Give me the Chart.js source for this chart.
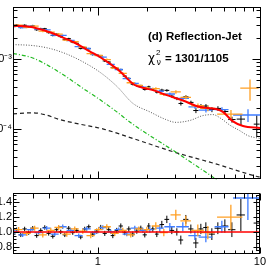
<!DOCTYPE html>
<html><head><meta charset="utf-8">
<script src="https://cdn.jsdelivr.net/npm/chart.js@4.4.1/dist/chart.umd.min.js"></script>
<style>
html,body{margin:0;padding:0;background:#fff;overflow:hidden;width:267px;height:267px}
canvas{position:absolute;left:0}
#top{top:0}
#bot{top:186px}
</style></head><body>
<canvas id="top" width="267" height="187"></canvas>
<canvas id="bot" width="267" height="81"></canvas>
<script>
// ---------------- data ----------------
const blackE = [0.302,0.316,0.335,0.354,0.375,0.397,0.420,0.445,0.471,0.498,0.528,0.558,0.591,0.626,0.662,0.701,0.742,0.785,0.831,0.880,0.931,0.986,1.043,1.105,1.169,1.238,1.310,1.387,1.468,1.554,1.644,1.741,1.843,1.950,2.064,2.185,2.313,2.484,2.667,2.862,3.074,3.253,3.493,3.751,4.027,4.324,4.642,5.055,5.505,6.081,6.718,7.634,9.55];
const blackFlux = [2.883e-3,3.042e-3,2.808e-3,3.023e-3,2.860e-3,2.978e-3,2.603e-3,2.701e-3,2.696e-3,2.371e-3,2.164e-3,2.256e-3,2.078e-3,1.886e-3,1.945e-3,1.728e-3,1.667e-3,1.411e-3,1.455e-3,1.398e-3,1.155e-3,1.136e-3,1.103e-3,9.35e-4,9.01e-4,7.54e-4,7.33e-4,7.01e-4,5.67e-4,5.26e-4,4.34e-4,4.16e-4,4.13e-4,3.66e-4,3.99e-4,3.72e-4,3.35e-4,3.58e-4,3.55e-4,2.93e-4,2.71e-4,2.31e-4,2.87e-4,2.39e-4,1.83e-4,2.12e-4,2.12e-4,1.89e-4,1.96e-4,1.77e-4,1.36e-4,1.38e-4,1.17e-4];
const blackRatio = [0.97,1.03,0.96,1.04,0.99,1.05,0.95,1.02,1.06,0.98,0.94,1.03,1.00,0.96,1.05,0.99,1.02,0.93,1.04,1.07,0.97,1.01,1.06,0.98,1.03,0.95,1.02,1.08,0.99,1.04,0.97,1.01,1.05,0.96,1.08,1.04,0.97,1.10,1.17,1.02,1.00,0.89,1.17,1.04,0.85,1.04,1.06,0.97,1.05,1.08,1.03,1.23,1.12];
const blackRatioErr = [0.03,0.03,0.03,0.03,0.03,0.03,0.03,0.03,0.03,0.03,0.03,0.03,0.03,0.03,0.03,0.03,0.03,0.03,0.03,0.03,0.035,0.035,0.035,0.035,0.035,0.035,0.035,0.035,0.035,0.035,0.035,0.035,0.035,0.035,0.04,0.04,0.04,0.05,0.05,0.05,0.05,0.06,0.06,0.06,0.07,0.07,0.07,0.08,0.08,0.09,0.10,0.22,0.38];
const blackHalfW = [0.009,0.009,0.010,0.011,0.011,0.012,0.013,0.013,0.014,0.015,0.016,0.017,0.018,0.019,0.020,0.021,0.022,0.024,0.025,0.026,0.028,0.030,0.031,0.033,0.035,0.037,0.039,0.042,0.044,0.047,0.049,0.052,0.055,0.058,0.05,0.06,0.06,0.08,0.09,0.10,0.11,0.11,0.13,0.14,0.15,0.16,0.17,0.22,0.25,0.30,0.35,0.45,0.40];

const blueE = [0.307,0.344,0.386,0.432,0.484,0.543,0.608,0.681,0.763,0.855,0.958,1.074,1.203,1.348,1.510,1.692,1.896,2.094,2.413,2.783,3.347,3.971,4.642,5.826,8.434];
const blueFlux = [2.992e-3,2.799e-3,2.942e-3,2.671e-3,2.604e-3,2.178e-3,2.161e-3,1.831e-3,1.496e-3,1.406e-3,1.149e-3,1.057e-3,8.35e-4,7.05e-4,5.22e-4,4.47e-4,3.95e-4,3.77e-4,3.45e-4,3.15e-4,2.72e-4,2.07e-4,1.86e-4,1.89e-4,1.58e-4];
const blueRatio = [1.01,0.96,1.03,0.99,1.05,0.97,1.07,1.02,0.95,1.04,0.99,1.06,1.00,1.03,0.97,1.05,1.02,1.03,1.05,1.07,1.07,0.95,0.93,1.07,1.46];
const blueRatioErr = [0.03,0.03,0.03,0.03,0.03,0.03,0.03,0.03,0.03,0.03,0.03,0.03,0.03,0.03,0.03,0.035,0.035,0.04,0.05,0.05,0.06,0.06,0.07,0.08,0.30];
const blueHalfW = [0.018,0.020,0.022,0.025,0.028,0.031,0.035,0.039,0.044,0.050,0.056,0.062,0.070,0.078,0.088,0.098,0.110,0.09,0.14,0.21,0.30,0.35,0.45,0.57,1.6];

const orangeE = [0.325,0.365,0.408,0.458,0.513,0.574,0.644,0.721,0.808,0.905,1.014,1.137,1.273,1.427,1.598,1.791,2.007,2.280,2.555,3.030,3.493,4.142,4.775,6.622,8.677];
const orangeFlux = [3.026e-3,2.840e-3,2.927e-3,2.492e-3,2.407e-3,2.262e-3,1.850e-3,1.757e-3,1.472e-3,1.185e-3,1.117e-3,9.78e-4,7.41e-4,6.22e-4,4.56e-4,4.18e-4,3.86e-4,3.77e-4,3.11e-4,3.38e-4,2.82e-4,2.14e-4,1.96e-4,1.63e-4,3.81e-4];
const orangeRatio = [1.03,0.98,1.05,0.96,1.02,1.06,0.97,1.04,1.01,0.95,1.03,1.07,0.98,1.02,0.96,1.04,1.03,1.08,0.99,1.23,1.15,1.02,0.99,1.20,3.56];
const orangeRatioErr = [0.035,0.035,0.035,0.035,0.035,0.035,0.035,0.035,0.035,0.035,0.035,0.035,0.035,0.035,0.035,0.035,0.04,0.05,0.05,0.07,0.07,0.08,0.09,0.17,1.2];
const orangeHalfW = [0.019,0.021,0.024,0.027,0.030,0.034,0.038,0.042,0.047,0.053,0.059,0.067,0.074,0.083,0.093,0.105,0.09,0.13,0.15,0.22,0.26,0.37,0.50,1.18,1.12];

// total model (red) and components
const modelE = [0.3,0.38,0.471,0.582,0.721,0.892,1.029,1.186,1.367,1.668,1.95,2.185,2.63,3.347,4.263,5.35,5.909,6.813,7.855,10];
const modelFlux = [2.97e-3,2.88e-3,2.54e-3,2.11e-3,1.70e-3,1.28e-3,1.064e-3,8.56e-4,6.67e-4,4.31e-4,3.81e-4,3.58e-4,3.06e-4,2.54e-4,2.05e-4,1.92e-4,1.75e-4,1.28e-4,1.10e-4,1.03e-4];
const dottedE = [0.3,0.397,0.505,0.644,0.808,1.029,1.31,1.644,2.094,2.63,3.03,3.698,4.447,5.128,5.743,6.528,7.523,8.434,10];
const dottedFlux = [1.60e-3,1.55e-3,1.41e-3,1.17e-3,9.1e-4,6.47e-4,4.06e-4,2.32e-4,1.75e-4,1.36e-4,1.24e-4,1.32e-4,1.55e-4,1.60e-4,1.41e-4,1.13e-4,9.4e-5,8.0e-5,7.3e-5];
const dashDotE = [0.3,0.397,0.505,0.643,0.808,1.03,1.31,1.64,2.99,5.35,6.5];
const dashDotFlux = [1.20e-3,1.03e-3,7.8e-4,5.5e-4,3.81e-4,2.62e-4,1.75e-4,1.17e-4,4.74e-5,1.92e-5,1.41e-5];
const dashedE = [0.3,0.397,0.471,0.582,0.774,1.074,1.644,3.03,5.35,9.45,10];
const dashedFlux = [1.64e-4,1.70e-4,1.60e-4,1.36e-4,1.17e-4,1.0e-4,7.3e-5,4.59e-5,3.16e-5,2.11e-5,2.05e-5];
const unityE = [0.3, 10];
const unityRatio = [1, 1];

// axes ticks and labels
const xTickValues = [0.3,0.4,0.5,0.6,0.7,0.8,0.9,1,2,3,4,5,6,7,8,9,10];
const xLabelValues = [1, 10];
const xLabels = ['1', '10'];
const yTopTickValues = [2e-5,3e-5,4e-5,5e-5,6e-5,7e-5,8e-5,9e-5,1e-4,2e-4,3e-4,4e-4,5e-4,6e-4,7e-4,8e-4,9e-4,1e-3,2e-3,3e-3,4e-3,5e-3];
const yTopLabelValues = [1e-4, 1e-3];
const yTopLabels = ['10\u207B\u2074', '10\u207B\u00B3'];
const ratioTickValues = [0.75,0.8,0.85,0.9,0.95,1.0,1.05,1.1,1.15,1.2,1.25,1.3,1.35,1.4,1.45,1.5];
const ratioLabelValues = [0.8, 1.0, 1.2, 1.4];
const ratioLabels = ['0.8', '1.0', '1.2', '1.4'];

const panelTitle = '(d) Reflection-Jet';
const chiText = ['\u03C7', '2', '\u03BD', '= 1301/1105'];

// ---------------- drawing ----------------
Chart.defaults.font.family = '"Liberation Sans", Arial, sans-serif';
Chart.defaults.font.size = 11;
Chart.defaults.color = '#000';

const BLACK = '#000000', BLUE = '#3f7cff', ORANGE = '#ffa024', RED = '#ff0000';

function pts(E, V) { return E.map((e, i) => ({x: e, y: V[i]})); }
function errsTop(F, R, RE, HW) { return F.map((f, i) => ({hw: HW[i], ye: f * RE[i] / R[i]})); }
function errsRatio(R, RE, HW) { return R.map((r, i) => ({hw: HW[i], ye: RE[i]})); }

const errorBars = {
  id: 'errbars',
  beforeDatasetsDraw(chart) {
    const {ctx, chartArea: a} = chart;
    const x = chart.scales.x, y = chart.scales.y;
    ctx.save();
    ctx.beginPath(); ctx.rect(a.left, a.top, a.right - a.left, a.bottom - a.top); ctx.clip();
    chart.data.datasets.forEach(ds => {
      if (!ds.errs) return;
      ctx.strokeStyle = ds.errColor; ctx.lineWidth = ds.errWidth;
      ds.data.forEach((p, i) => {
        const e = ds.errs[i];
        const px = x.getPixelForValue(p.x), py = y.getPixelForValue(p.y);
        const x0 = x.getPixelForValue(p.x - e.hw), x1 = x.getPixelForValue(p.x + e.hw);
        const y0 = y.getPixelForValue(Math.max(p.y - e.ye, 1e-9)), y1 = y.getPixelForValue(p.y + e.ye);
        ctx.beginPath();
        ctx.moveTo(x0, py); ctx.lineTo(x1, py);
        ctx.moveTo(px, y0); ctx.lineTo(px, y1);
        ctx.stroke();
      });
    });
    ctx.restore();
  }
};

const frame = {
  id: 'frame',
  afterDraw(chart, args, o) {
    const {ctx, chartArea: a} = chart;
    const x = chart.scales.x, y = chart.scales.y;
    const L = Math.floor(a.left) + 0.5, R = Math.floor(a.right) + 0.5;
    const T = Math.floor(a.top) + 0.5, B = Math.floor(a.bottom) - 0.5;
    ctx.save();
    ctx.strokeStyle = '#000'; ctx.lineWidth = 1;
    ctx.strokeRect(L, T, R - L, B - T);
    ctx.beginPath();
    x.ticks.forEach(t => {
      const px = Math.round(x.getPixelForValue(t.value)) + 0.5;
      const big = o.xMajor.includes(t.value);
      const lb = big ? o.xLenBottom[0] : o.xLenBottom[1];
      const lt = big ? o.xLenTop[0] : o.xLenTop[1];
      ctx.moveTo(px, B); ctx.lineTo(px, B - lb);
      ctx.moveTo(px, T); ctx.lineTo(px, T + lt);
    });
    y.ticks.forEach(t => {
      const py = Math.round(y.getPixelForValue(t.value)) + 0.5;
      const big = o.yMajor.some(v => Math.abs(v - t.value) < 1e-9 * Math.max(1, Math.abs(v)) || Math.abs(v - t.value) < 1e-12);
      const l = big ? o.yLen[0] : o.yLen[1];
      ctx.moveTo(L, py); ctx.lineTo(L + l, py);
      ctx.moveTo(R, py); ctx.lineTo(R - l, py);
    });
    ctx.stroke();
    ctx.restore();
  }
};

const annot = {
  id: 'annot',
  afterDraw(chart) {
    const ctx = chart.ctx;
    ctx.save();
    ctx.fillStyle = '#000';
    ctx.textBaseline = 'alphabetic';
    ctx.font = 'bold 11.5px "Liberation Sans", Arial, sans-serif';
    ctx.fillText(panelTitle, 148, 40);
    ctx.font = '12px "DejaVu Sans", sans-serif';
    ctx.fillText(chiText[0], 148, 62);
    ctx.font = '8px "Liberation Sans", Arial, sans-serif';
    ctx.fillText(chiText[1], 156, 55);
    ctx.font = '8px "DejaVu Sans", sans-serif';
    ctx.fillText(chiText[2], 156.5, 65);
    ctx.font = 'bold 11.5px "Liberation Sans", Arial, sans-serif';
    ctx.fillText(chiText[3], 165, 62);
    ctx.restore();
  }
};

function dataSet(E, V, errs, color, w) {
  return {data: pts(E, V), errs: errs, errColor: color, errWidth: w, showLine: false, pointRadius: 0, pointHoverRadius: 0};
}
function lineSet(E, V, color, width, dash) {
  return {data: pts(E, V), showLine: true, pointRadius: 0, borderColor: color, borderWidth: width, borderDash: dash, fill: false, tension: 0.35, cubicInterpolationMode: 'monotone'};
}

function xScale(showLabels) {
  return {
    type: 'logarithmic', min: 0.3, max: 10,
    afterBuildTicks: s => { s.ticks = xTickValues.map(v => ({value: v})); },
    afterFit: s => { s.height = showLabels ? 13 : 0; },
    ticks: {display: showLabels, autoSkip: false, maxRotation: 0, padding: 1, font: {size: 11},
      callback: v => { const i = xLabelValues.indexOf(v); return i >= 0 ? xLabels[i] : ''; }},
    grid: {display: false, drawTicks: false}, border: {display: false}
  };
}

new Chart(document.getElementById('top'), {
  type: 'scatter',
  data: {datasets: [
    lineSet(modelE, modelFlux, RED, 2, []),
    lineSet(dottedE, dottedFlux, '#555555', 1, [1, 1.6]),
    lineSet(dashDotE, dashDotFlux, '#22bb22', 1.2, [4, 2, 1, 2]),
    lineSet(dashedE, dashedFlux, '#222222', 1.2, [4, 3]),
    dataSet(blackE, blackFlux, errsTop(blackFlux, blackRatio, blackRatioErr, blackHalfW), BLACK, 1),
    dataSet(blueE, blueFlux, errsTop(blueFlux, blueRatio, blueRatioErr, blueHalfW), BLUE, 1.3),
    dataSet(orangeE, orangeFlux, errsTop(orangeFlux, orangeRatio, orangeRatioErr, orangeHalfW), ORANGE, 1.3)
  ]},
  options: {
    responsive: false, animation: false, devicePixelRatio: 1,
    layout: {padding: {top: 5, right: 7, bottom: 0, left: 0}},
    plugins: {legend: {display: false}, tooltip: {enabled: false},
      frame: {xMajor: xLabelValues, yMajor: yTopLabelValues, xLenBottom: [7, 4], xLenTop: [8, 4], yLen: [8, 4]}},
    scales: {
      x: xScale(false),
      y: {
        type: 'logarithmic', min: 1.9e-5, max: 5.4e-3,
        afterBuildTicks: s => { s.ticks = yTopTickValues.map(v => ({value: v})); },
        afterFit: s => { s.width = 13; },
        ticks: {autoSkip: false, padding: 1, font: {size: 11},
          callback: v => { const i = yTopLabelValues.indexOf(v); return i >= 0 ? yTopLabels[i] : ''; }},
        grid: {display: false, drawTicks: false}, border: {display: false}
      }
    }
  },
  plugins: [errorBars, frame, annot]
});

new Chart(document.getElementById('bot'), {
  type: 'scatter',
  data: {datasets: [
    lineSet(unityE, unityRatio, RED, 1.5, []),
    dataSet(blackE, blackRatio, errsRatio(blackRatio, blackRatioErr, blackHalfW), BLACK, 1),
    dataSet(blueE, blueRatio, errsRatio(blueRatio, blueRatioErr, blueHalfW), BLUE, 1.3),
    dataSet(orangeE, orangeRatio, errsRatio(orangeRatio, orangeRatioErr, orangeHalfW), ORANGE, 1.3)
  ]},
  options: {
    responsive: false, animation: false, devicePixelRatio: 1,
    layout: {padding: {top: 0, right: 7, bottom: 0, left: 0}},
    plugins: {legend: {display: false}, tooltip: {enabled: false},
      frame: {xMajor: xLabelValues, yMajor: ratioLabelValues, xLenBottom: [6, 3], xLenTop: [7, 5], yLen: [6, 3]}},
    scales: {
      x: xScale(true),
      y: {
        type: 'linear', min: 0.7, max: 1.52,
        afterBuildTicks: s => { s.ticks = ratioTickValues.map(v => ({value: v})); },
        afterFit: s => { s.width = 13; },
        ticks: {autoSkip: false, padding: 1, font: {size: 11},
          callback: v => { const i = ratioLabelValues.findIndex(w => Math.abs(w - v) < 1e-9); return i >= 0 ? ratioLabels[i] : ''; }},
        grid: {display: false, drawTicks: false}, border: {display: false}
      }
    }
  },
  plugins: [errorBars, frame]
});
</script>
</body></html>
